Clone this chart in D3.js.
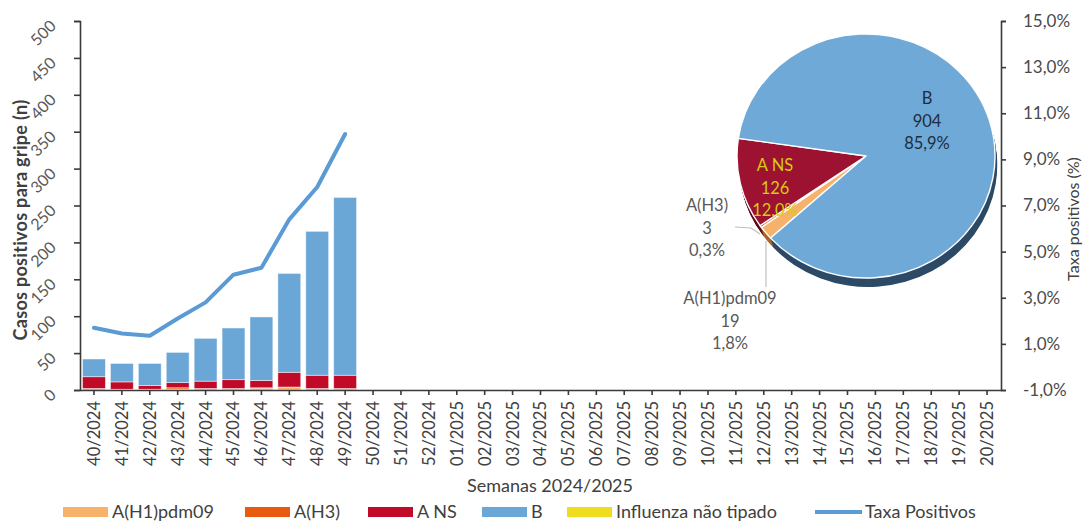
<!DOCTYPE html>
<html>
<head>
<meta charset="utf-8">
<script src="https://cdn.jsdelivr.net/npm/d3@7"></script>
<style>
  body { margin: 0; background: #fff; }
  text { font-family: Lato, "Open Sans", sans-serif; }
</style>
</head>
<body>
<svg id="chart" width="1084" height="521"></svg>
<script>
// weeks shown on the x axis
var weeks = ["40/2024","41/2024","42/2024","43/2024","44/2024","45/2024","46/2024",
  "47/2024","48/2024","49/2024","50/2024","51/2024","52/2024","01/2025","02/2025",
  "03/2025","04/2025","05/2025","06/2025","07/2025","08/2025","09/2025","10/2025",
  "11/2025","12/2025","13/2025","14/2025","15/2025","16/2025","17/2025","18/2025",
  "19/2025","20/2025"];

// cases per week (only weeks 40-49 reported so far)
var h1pdm09   = [2, 1, 1, 1, 2, 2, 2, 4, 2, 2];
var h3        = [0, 0, 0, 2, 0, 0, 1, 0, 0, 0];
var aNS       = [16, 10, 5, 7, 10, 12, 10, 20, 18, 18];
var typeB     = [24, 25, 30, 41, 58, 70, 86, 134, 195, 241];
var naoTipado = [0, 0, 0, 0, 0, 0, 0, 0, 0, 0];

// positivity rate (%)
var taxa = [1.7, 1.45, 1.35, 2.1, 2.8, 4.0, 4.3, 6.4, 7.8, 10.1];

var leftTicks  = [0, 50, 100, 150, 200, 250, 300, 350, 400, 450, 500];
var rightTicks = [-1, 1, 3, 5, 7, 9, 11, 13, 15];

// pie totals for the season
var pieCats   = ["A(H1)pdm09", "A(H3)", "A NS", "B"];
var pieValues = [19, 3, 126, 904];

var seriesKeys   = ["A(H1)pdm09", "A(H3)", "A NS", "B", "Influenza não tipado"];
var seriesColors = ["#f8b36b", "#e85a10", "#c00a28", "#6aa7d6", "#f0dc1e"];
var lineColor = "#5b9bd5";

var svg = d3.select("#chart");

var x0 = 80, x1 = 1001, yTop = 21, yBot = 390;

var x = d3.scaleBand().domain(weeks).range([x0, x1]).paddingInner(0.18).paddingOuter(0.09);
var y = d3.scaleLinear().domain([0, 500]).range([yBot, yTop]);
var yR = d3.scaleLinear().domain([-1, 15]).range([yBot, yTop]);

/* ---- bars ---- */
var rows = weeks.slice(0, typeB.length).map(function (w, i) {
  return {week: w, "A(H1)pdm09": h1pdm09[i], "A(H3)": h3[i], "A NS": aNS[i],
          "B": typeB[i], "Influenza não tipado": naoTipado[i]};
});
var stacked = d3.stack().keys(seriesKeys)(rows);

svg.append("g").selectAll("g")
  .data(stacked)
  .join("g")
    .attr("fill", function (d, i) { return seriesColors[i]; })
  .selectAll("rect")
  .data(function (d) { return d; })
  .join("rect")
    .attr("x", function (d) { return x(d.data.week); })
    .attr("y", function (d) { return y(d[1]); })
    .attr("width", x.bandwidth())
    .attr("height", function (d) { return y(d[0]) - y(d[1]); })
    .attr("stroke", "#fff")
    .attr("stroke-opacity", 0.6)
    .attr("stroke-width", 0.8);

/* ---- rate line ---- */
var line = d3.line()
  .x(function (d, i) { return x(weeks[i]) + x.bandwidth() / 2; })
  .y(function (d) { return yR(d); });

svg.append("path")
  .datum(taxa)
  .attr("d", line)
  .attr("fill", "none")
  .attr("stroke", lineColor)
  .attr("stroke-width", 4)
  .attr("stroke-linejoin", "round")
  .attr("stroke-linecap", "round");

/* ---- axes ---- */
var axisColor = "#3a3a3a";

// left
var gl = svg.append("g").attr("transform", "translate(" + x0 + ",0)")
  .call(d3.axisLeft(y).tickValues(leftTicks).tickSize(6).tickFormat(""));
gl.selectAll("line, path").attr("stroke", axisColor).attr("stroke-width", 1.6);
svg.append("g").selectAll("text")
  .data(leftTicks)
  .join("text")
    .attr("transform", function (d) { return "translate(57," + (y(d) + 6) + ") rotate(-45)"; })
    .attr("text-anchor", "end")
    .attr("font-size", 16)
    .attr("fill", "#595959")
    .text(function (d) { return d; });

// right
var gr = svg.append("g").attr("transform", "translate(" + x1 + ",0)")
  .call(d3.axisRight(yR).tickValues(rightTicks).tickSize(5)
    .tickFormat(function (d) { return d.toFixed(1).replace(".", ",") + "%"; }));
gr.selectAll("line, path").attr("stroke", axisColor).attr("stroke-width", 1.6);
gr.selectAll("text")
  .attr("x", 22)
  .attr("font-size", 17)
  .attr("font-family", "Lato, sans-serif")
  .attr("fill", "#4a4a4a");

// bottom
var gb = svg.append("g").attr("transform", "translate(0," + yBot + ")")
  .call(d3.axisBottom(x).tickSize(5).tickSizeOuter(0));
gb.selectAll("line, path").attr("stroke", axisColor).attr("stroke-width", 1.6);
gb.selectAll("text")
  .attr("transform", "rotate(-90)")
  .attr("text-anchor", "end")
  .attr("x", -11)
  .attr("y", 0)
  .attr("dy", "0.36em")
  .attr("font-size", 16.5)
  .attr("font-family", "Lato, sans-serif")
  .attr("fill", "#404040");

// titles
svg.append("text")
  .attr("transform", "translate(27,220) rotate(-90)")
  .attr("text-anchor", "middle")
  .attr("font-size", 18)
  .attr("font-weight", "bold")
  .attr("letter-spacing", 0.3)
  .attr("fill", "#404040")
  .text("Casos positivos para gripe (n)");

svg.append("text")
  .attr("transform", "translate(1079,219) rotate(-90)")
  .attr("text-anchor", "middle")
  .attr("font-size", 16)
  .attr("fill", "#404040")
  .text("Taxa positivos (%)");

svg.append("text")
  .attr("x", 550).attr("y", 492)
  .attr("text-anchor", "middle")
  .attr("font-size", 18)
  .attr("fill", "#404040")
  .text("Semanas 2024/2025");

/* ---- 3D-ish pie ---- */
var pieCx = 866, pieCy = 156, rx = 129, ry = 122, depth = 9;
var pieTop   = ["#f6b26b", "#c85d12", "#9c1230", "#6ea9d8"];
var pieSide  = ["#a8652a", "#7a3508", "#5c0a1c", "#2d4a66"];
var start = 227.7 * Math.PI / 180;
var pie = d3.pie().sort(null).startAngle(start).endAngle(start + 2 * Math.PI);
var arcs = pie(pieValues);
var arc = d3.arc().innerRadius(0).outerRadius(rx);

for (var t = depth; t >= 1; t--) {
  svg.append("g")
    .attr("transform", "translate(" + (pieCx + t * 0.25) + "," + (pieCy + t) + ") scale(1," + (ry / rx) + ")")
    .selectAll("path")
    .data(arcs)
    .join("path")
      .attr("d", arc)
      .attr("fill", function (d, i) { return pieSide[i]; });
}
svg.append("g")
  .attr("transform", "translate(" + pieCx + "," + pieCy + ") scale(1," + (ry / rx) + ")")
  .selectAll("path")
  .data(arcs)
  .join("path")
    .attr("d", arc)
    .attr("fill", function (d, i) { return pieTop[i]; })
    .attr("stroke", "#fff")
    .attr("stroke-width", 1.4)
    .attr("stroke-linejoin", "round");

var total = d3.sum(pieValues);
function pct(v) { return (v / total * 100).toFixed(1).replace(".", ",") + "%"; }

// label anchors (first baseline) relative to pie centre
var pieLabelPos = [[-136, 148], [-159, 55], [-91, 15], [61, -52]];
var pieLabelCol = ["#595959", "#595959", "#d6ca12", "#1f2d3b"];

pieCats.forEach(function (c, i) {
  var lab = svg.append("text")
    .attr("text-anchor", "middle")
    .attr("font-size", 16.5)
    .attr("fill", pieLabelCol[i]);
  [c, pieValues[i], pct(pieValues[i])].forEach(function (s, k) {
    lab.append("tspan")
      .attr("x", pieCx + pieLabelPos[i][0])
      .attr("y", pieCy + pieLabelPos[i][1] + k * 22.5)
      .text(s);
  });
});

// leader lines
svg.append("polyline")
  .attr("points", [[pieCx - 131, pieCy + 71], [pieCx - 115, pieCy + 72], [pieCx - 106, pieCy + 78]].join(" "))
  .attr("fill", "none").attr("stroke", "#bfbfbf").attr("stroke-width", 1.2);
svg.append("line")
  .attr("x1", pieCx - 100).attr("y1", pieCy + 85)
  .attr("x2", pieCx - 100).attr("y2", pieCy + 131)
  .attr("stroke", "#bfbfbf").attr("stroke-width", 1.2);

/* ---- legend ---- */
var legendX = [63, 245, 368, 482, 567, 815];
var legend = svg.append("g");
seriesKeys.concat(["Taxa Positivos"]).forEach(function (k, i) {
  var g = legend.append("g").attr("transform", "translate(" + legendX[i] + ",512)");
  if (i < seriesKeys.length) {
    g.append("rect").attr("x", 0).attr("y", -5).attr("width", 45).attr("height", 10)
      .attr("fill", seriesColors[i]);
  } else {
    g.append("line").attr("x1", 0).attr("x2", 47).attr("y1", 0).attr("y2", 0)
      .attr("stroke", lineColor).attr("stroke-width", 4);
  }
  g.append("text")
    .attr("x", i < seriesKeys.length ? 49 : 50)
    .attr("y", 0)
    .attr("dy", "0.35em")
    .attr("font-size", 18)
    .attr("fill", "#404040")
    .text(k);
});
</script>
</body>
</html>
